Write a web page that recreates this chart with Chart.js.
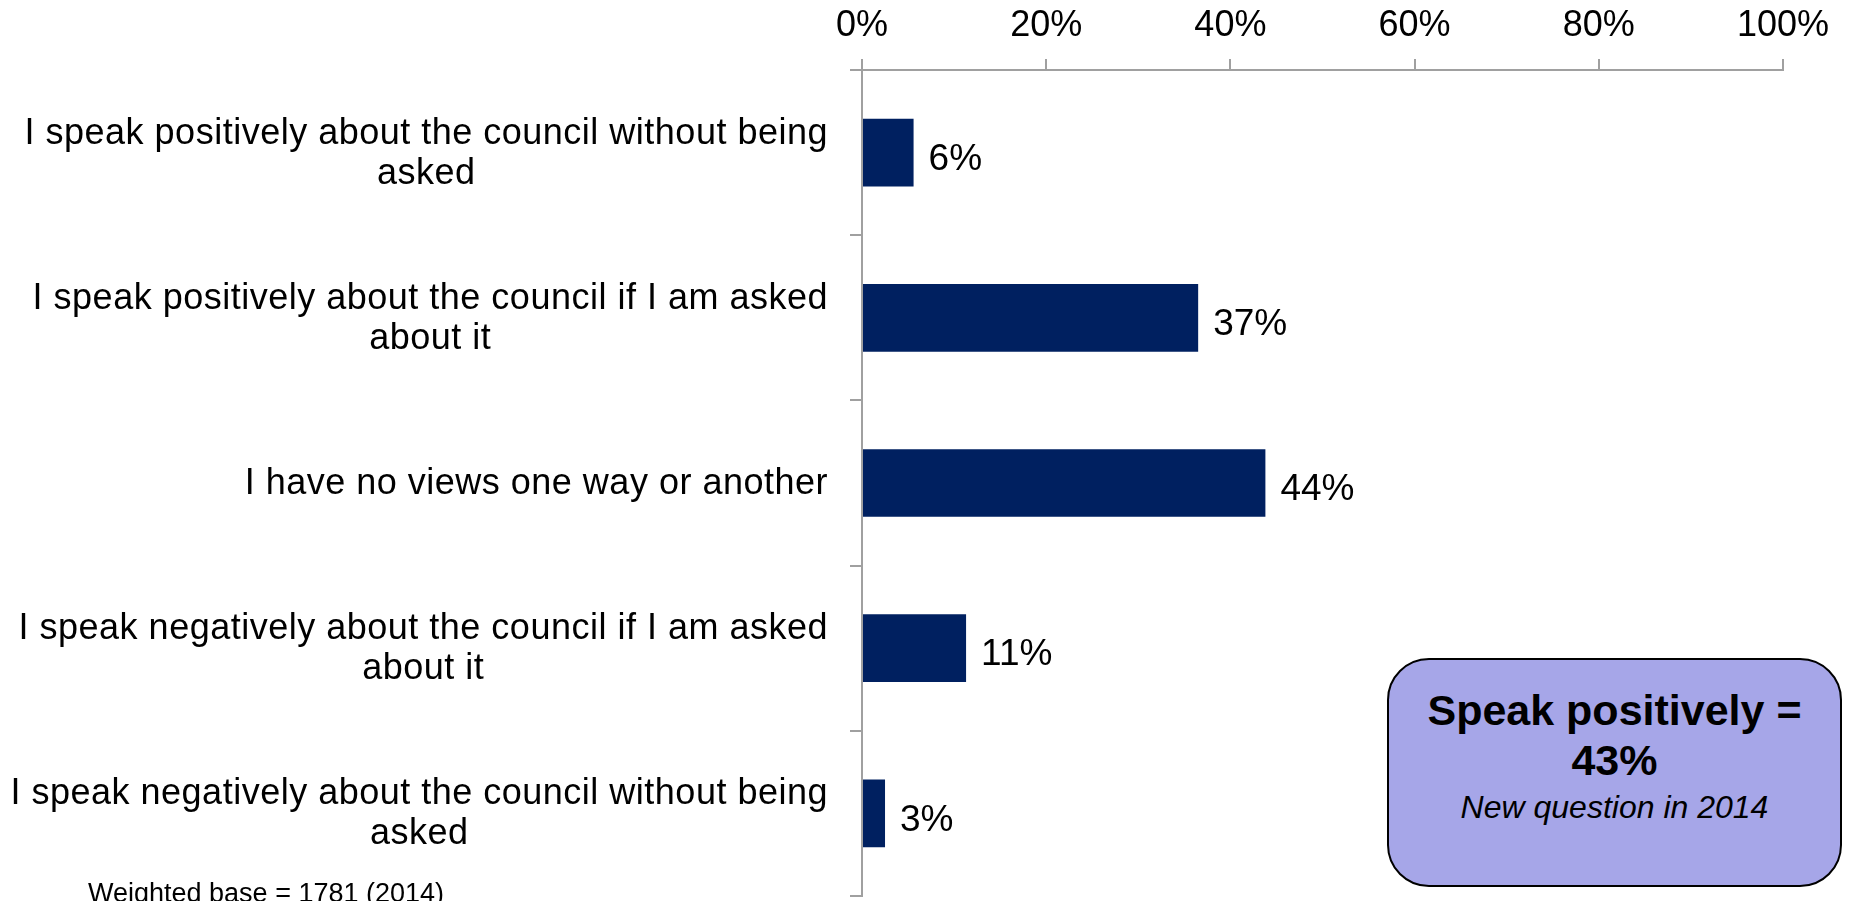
<!DOCTYPE html>
<html lang="en">
<head>
    <meta charset="UTF-8">
    <title>Speak about the council</title>
    <script src="https://cdn.jsdelivr.net/npm/chart.js"></script>
    <style>
        body { margin: 0; background: #fff; }
        #wrap { position: relative; width: 1849px; height: 901px; overflow: hidden; }
        #note {
            position: absolute; left: 88px; top: 880px;
            font-family: 'Liberation Sans', Arial, sans-serif;
            font-size: 27px; color: #000; line-height: 1; white-space: nowrap;
        }
        #box {
            position: absolute; left: 1387px; top: 658px; width: 455px; height: 229px;
            background: #a6a6e8; border: 2px solid #000; border-radius: 42px;
            font-family: 'Liberation Sans', Arial, sans-serif; text-align: center; box-sizing: border-box;
            padding-top: 25px;
        }
        #box .big { font-size: 43px; font-weight: bold; line-height: 50px; }
        #box .small { font-size: 32px; font-style: italic; line-height: 44px; }
    </style>
</head>
<body>
<div id="wrap">
    <canvas id="myChart" width="1849" height="901"></canvas>
    <div id="note">Weighted base = 1781 (2014)</div>
    <div id="box">
        <div class="big">Speak positively =</div>
        <div class="big">43%</div>
        <div class="small">New question in 2014</div>
    </div>
</div>
<script>
    var categories = [
        ['I speak positively about the council without being', 'asked'],
        ['I speak positively about the council if I am asked', 'about it'],
        ['I have no views one way or another'],
        ['I speak negatively about the council if I am asked', 'about it'],
        ['I speak negatively about the council without being', 'asked']
    ];
    var values = [5.6, 36.5, 43.8, 11.3, 2.5];
    var valueLabels = ['6%', '37%', '44%', '11%', '3%'];
    var tickLabels = ['0%', '20%', '40%', '60%', '80%', '100%'];

    // category labels: block right-aligned to the axis, lines centred in the block
    var catLabels = {
        id: 'catLabels',
        afterDraw: function(chart) {
            var ctx = chart.ctx;
            var y = chart.scales.y;
            var right = y.right - 34;
            ctx.save();
            ctx.fillStyle = '#000';
            ctx.font = '36px "Liberation Sans", Arial, sans-serif';
            ctx.letterSpacing = '0.5px';
            ctx.textAlign = 'center';
            ctx.textBaseline = 'middle';
            categories.forEach(function(lines, i) {
                var cy = y.getPixelForTick(i);
                var w = 0;
                lines.forEach(function(l) { w = Math.max(w, ctx.measureText(l).width); });
                var cx = right - w / 2;
                var y0 = cy - (lines.length - 1) * 20 + 1;
                lines.forEach(function(l, k) { ctx.fillText(l, cx, y0 + k * 40); });
            });
            ctx.restore();
        }
    };

    var barLabels = {
        id: 'barLabels',
        afterDatasetsDraw: function(chart) {
            var ctx = chart.ctx;
            var meta = chart.getDatasetMeta(0);
            ctx.save();
            ctx.fillStyle = '#000';
            ctx.font = '37px "Liberation Sans", Arial, sans-serif';
            ctx.textBaseline = 'middle';
            ctx.textAlign = 'left';
            meta.data.forEach(function(bar, i) {
                ctx.fillText(valueLabels[i], bar.x + 15, bar.y + 7);
            });
            ctx.restore();
        }
    };

    var ctx = document.getElementById('myChart').getContext('2d');
    new Chart(ctx, {
        type: 'bar',
        data: {
            labels: categories,
            datasets: [{
                data: values,
                backgroundColor: '#002060',
                barPercentage: 0.41,
                categoryPercentage: 1
            }]
        },
        options: {
            indexAxis: 'y',
            responsive: false,
            animation: false,
            layout: { padding: { left: 0, right: 66, top: 0, bottom: 5 } },
            plugins: { legend: { display: false }, tooltip: { enabled: false } },
            scales: {
                x: {
                    position: 'top',
                    min: 0, max: 100,
                    afterFit: function(scale) { scale.height = 70; },
                    ticks: {
                        stepSize: 20,
                        color: '#000',
                        padding: 11,
                        font: { family: '"Liberation Sans", Arial', size: 36 },
                        callback: function(v, i) { return tickLabels[i]; }
                    },
                    grid: { drawOnChartArea: false, drawTicks: true, tickLength: 11, color: '#a0a0a0', lineWidth: 2 },
                    border: { color: '#a0a0a0', width: 2 }
                },
                y: {
                    afterFit: function(scale) { scale.width = 862; },
                    ticks: { display: false },
                    grid: { drawOnChartArea: false, drawTicks: true, tickLength: 12, offset: true, color: '#a0a0a0', lineWidth: 2 },
                    border: { color: '#a0a0a0', width: 2 }
                }
            }
        },
        plugins: [barLabels, catLabels]
    });
</script>
</body>
</html>
